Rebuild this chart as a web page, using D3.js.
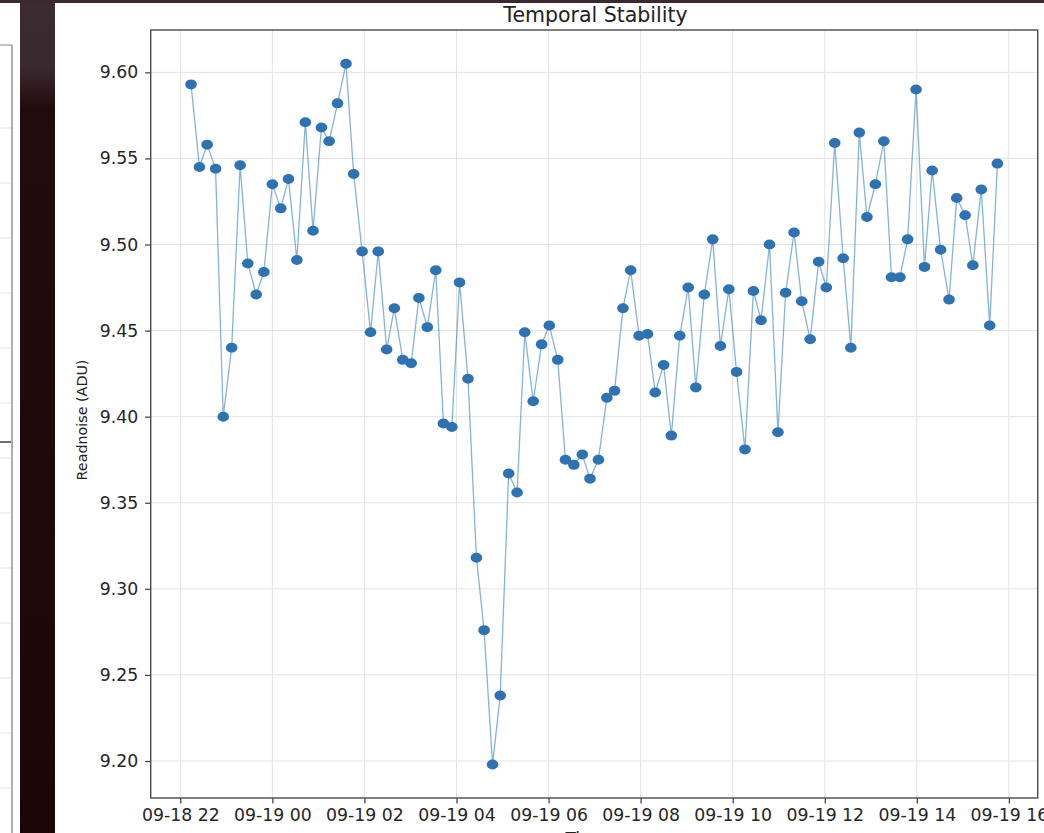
<!DOCTYPE html>
<html>
<head>
<meta charset="utf-8">
<script src="https://cdn.jsdelivr.net/npm/d3@7/dist/d3.min.js"></script>
<style>
  html, body { margin: 0; padding: 0; background: #ffffff; overflow: hidden; }
  svg { display: block; font-family: "DejaVu Sans", sans-serif; }
</style>
</head>
<body>
<svg id="chart" width="1044" height="833"></svg>
<script>
// ---- data ----
const times = [
  "09-18 22:14","09-18 22:25","09-18 22:35","09-18 22:46","09-18 22:56","09-18 23:07","09-18 23:18","09-18 23:28","09-18 23:39","09-18 23:49",
  "09-19 00:00","09-19 00:11","09-19 00:21","09-19 00:32","09-19 00:43","09-19 00:53","09-19 01:04","09-19 01:14","09-19 01:25","09-19 01:36",
  "09-19 01:46","09-19 01:57","09-19 02:08","09-19 02:18","09-19 02:29","09-19 02:39","09-19 02:50","09-19 03:01","09-19 03:11","09-19 03:22",
  "09-19 03:33","09-19 03:43","09-19 03:54","09-19 04:04","09-19 04:15","09-19 04:26","09-19 04:36","09-19 04:47","09-19 04:57","09-19 05:08",
  "09-19 05:19","09-19 05:29","09-19 05:40","09-19 05:51","09-19 06:01","09-19 06:12","09-19 06:22","09-19 06:33","09-19 06:44","09-19 06:54",
  "09-19 07:05","09-19 07:16","09-19 07:26","09-19 07:37","09-19 07:47","09-19 07:58","09-19 08:09","09-19 08:19","09-19 08:30","09-19 08:40",
  "09-19 08:51","09-19 09:02","09-19 09:12","09-19 09:23","09-19 09:34","09-19 09:44","09-19 09:55","09-19 10:05","09-19 10:16","09-19 10:27",
  "09-19 10:37","09-19 10:48","09-19 10:59","09-19 11:09","09-19 11:20","09-19 11:30","09-19 11:41","09-19 11:52","09-19 12:02","09-19 12:13",
  "09-19 12:24","09-19 12:34","09-19 12:45","09-19 12:55","09-19 13:06","09-19 13:17","09-19 13:27","09-19 13:38","09-19 13:48","09-19 13:59",
  "09-19 14:10","09-19 14:20","09-19 14:31","09-19 14:42","09-19 14:52","09-19 15:03","09-19 15:13","09-19 15:24","09-19 15:35","09-19 15:45"
];
const readnoise = [
  9.593, 9.545, 9.558, 9.544, 9.400, 9.440, 9.546, 9.489, 9.471, 9.484,
  9.535, 9.521, 9.538, 9.491, 9.571, 9.508, 9.568, 9.560, 9.582, 9.605,
  9.541, 9.496, 9.449, 9.496, 9.439, 9.463, 9.433, 9.431, 9.469, 9.452,
  9.485, 9.396, 9.394, 9.478, 9.422, 9.318, 9.276, 9.198, 9.238, 9.367,
  9.356, 9.449, 9.409, 9.442, 9.453, 9.433, 9.375, 9.372, 9.378, 9.364,
  9.375, 9.411, 9.415, 9.463, 9.485, 9.447, 9.448, 9.414, 9.430, 9.389,
  9.447, 9.475, 9.417, 9.471, 9.503, 9.441, 9.474, 9.426, 9.381, 9.473,
  9.456, 9.500, 9.391, 9.472, 9.507, 9.467, 9.445, 9.490, 9.475, 9.559,
  9.492, 9.440, 9.565, 9.516, 9.535, 9.560, 9.481, 9.481, 9.503, 9.590,
  9.487, 9.543, 9.497, 9.468, 9.527, 9.517, 9.488, 9.532, 9.453, 9.547
];
const yTicks = [9.20, 9.25, 9.30, 9.35, 9.40, 9.45, 9.50, 9.55, 9.60];
const yLimits = [9.1785, 9.6246];
const xTickLabels = ["09-18 22","09-19 00","09-19 02","09-19 04","09-19 06","09-19 08","09-19 10","09-19 12","09-19 14","09-19 16"];
const titleText = "Temporal Stability";
const yLabelText = "Readnoise (ADU)";
const xLabelText = "Time";

// ---- setup ----
const parse = d3.timeParse("%Y-%m-%d %H:%M");
const parseTick = d3.timeParse("%Y-%m-%d %H");
const data = times.map((t, i) => ({ t: parse("2024-" + t), v: readnoise[i] }));
const tickDates = xTickLabels.map(s => parseTick("2024-" + s));

const svg = d3.select("#chart");
const W = 1044, H = 833;
const plot = { left: 150.7, right: 1037.7, top: 30, bottom: 798 };

// background decoration (screenshot surroundings)
const defs = svg.append("defs");
const grad = defs.append("linearGradient").attr("id", "strip").attr("x1", 0).attr("x2", 0).attr("y1", 0).attr("y2", 1);
grad.append("stop").attr("offset", "0%").attr("stop-color", "#3b2b31");
grad.append("stop").attr("offset", "8%").attr("stop-color", "#3a2a30");
grad.append("stop").attr("offset", "13%").attr("stop-color", "#230a0e");
grad.append("stop").attr("offset", "100%").attr("stop-color", "#1e0507");

svg.append("rect").attr("x", 0).attr("y", 0).attr("width", W).attr("height", H).attr("fill", "#ffffff");
// left partial chart fragment
const frag = svg.append("g");
[128, 183, 238, 293, 348, 403, 458, 513, 568, 623, 678, 733, 788].forEach(y => {
  frag.append("line").attr("x1", 0).attr("x2", 11).attr("y1", y).attr("y2", y)
    .attr("stroke", "#e4e4e4").attr("stroke-width", 1);
});
frag.append("line").attr("x1", 0).attr("x2", 12).attr("y1", 45).attr("y2", 45).attr("stroke", "#9a9a9a").attr("stroke-width", 1.2);
frag.append("line").attr("x1", 12).attr("x2", 12).attr("y1", 45).attr("y2", H).attr("stroke", "#9a9a9a").attr("stroke-width", 1.6);
frag.append("line").attr("x1", 0).attr("x2", 11).attr("y1", 442).attr("y2", 442).attr("stroke", "#222").attr("stroke-width", 1.3);
svg.append("rect").attr("x", 20).attr("y", 0).attr("width", 35).attr("height", H).attr("fill", "url(#strip)");
svg.append("rect").attr("x", 0).attr("y", 0).attr("width", W).attr("height", 3).attr("fill", "#3a2a30");

// scales
const tExt = d3.extent(data, d => d.t);
const span = tExt[1] - tExt[0];
const x = d3.scaleTime()
  .domain([new Date(+tExt[0] - 0.05 * span), new Date(+tExt[1] + 0.05 * span)])
  .range([plot.left, plot.right]);
const y = d3.scaleLinear().domain(yLimits).range([plot.bottom, plot.top]);

// grid
const grid = svg.append("g");
grid.selectAll(".gx").data(tickDates).enter().append("line")
  .attr("x1", d => x(d)).attr("x2", d => x(d))
  .attr("y1", plot.top).attr("y2", plot.bottom)
  .attr("stroke", "#e3e3e3").attr("stroke-width", 1);
grid.selectAll(".gy").data(yTicks).enter().append("line")
  .attr("x1", plot.left).attr("x2", plot.right)
  .attr("y1", d => y(d)).attr("y2", d => y(d))
  .attr("stroke", "#e3e3e3").attr("stroke-width", 1);

// axes
const fmt = d3.timeFormat("%m-%d %H");
const xAxis = d3.axisBottom(x).tickValues(tickDates).tickFormat(fmt).tickSize(5.5).tickPadding(5);
const yAxis = d3.axisLeft(y).tickValues(yTicks).tickFormat(d3.format(".2f")).tickSize(5.5).tickPadding(7);

const gx = svg.append("g").attr("transform", `translate(0,${plot.bottom})`).call(xAxis);
const gy = svg.append("g").attr("transform", `translate(${plot.left},0)`).call(yAxis);
[gx, gy].forEach(g => {
  g.select(".domain").remove();
  g.selectAll(".tick line").attr("stroke", "#3a3a3a").attr("stroke-width", 1.2);
  g.selectAll(".tick text").attr("fill", "#262626").style("font-size", "17.3px")
    .style("font-family", "'DejaVu Sans', sans-serif");
});
gx.selectAll(".tick text").attr("dy", "0.74em");

// line and markers
const line = d3.line().x(d => x(d.t)).y(d => y(d.v));
svg.append("path").datum(data).attr("d", line)
  .attr("fill", "none").attr("stroke", "#1f77b4").attr("stroke-opacity", 0.55)
  .attr("stroke-width", 1.3);
svg.append("g").selectAll("ellipse").data(data).enter().append("ellipse")
  .attr("cx", d => x(d.t)).attr("cy", d => y(d.v))
  .attr("rx", 5.8).attr("ry", 5.0)
  .attr("fill", "#2d73b3");

// frame
svg.append("rect").attr("x", plot.left).attr("y", plot.top)
  .attr("width", plot.right - plot.left).attr("height", plot.bottom - plot.top)
  .attr("fill", "none").attr("stroke", "#4a4a4a").attr("stroke-width", 1.4);

// texts
svg.append("text").attr("x", 595.5).attr("y", 22)
  .attr("text-anchor", "middle").attr("fill", "#222").style("font-size", "20.5px")
  .text(titleText);
svg.append("text").attr("transform", `translate(87,420) rotate(-90)`)
  .attr("text-anchor", "middle").attr("fill", "#222").style("font-size", "14.3px")
  .text(yLabelText);
svg.append("text").attr("x", (plot.left + plot.right) / 2 - 8).attr("y", 845)
  .attr("text-anchor", "middle").attr("fill", "#222").style("font-size", "17px")
  .text(xLabelText);
</script>
</body>
</html>
